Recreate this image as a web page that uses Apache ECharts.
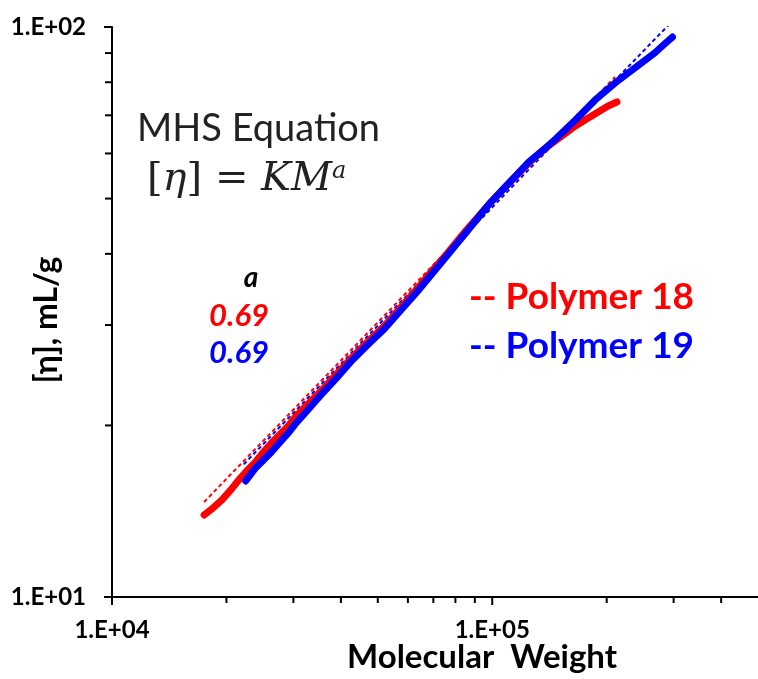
<!DOCTYPE html>
<html>
<head>
<meta charset="utf-8">
<script src="https://cdn.jsdelivr.net/npm/echarts@6/dist/echarts.min.js"></script>
<style>
  html, body { margin: 0; padding: 0; background: #fff; }
  #chart { width: 758px; height: 679px; }
</style>
</head>
<body>
<div id="chart"></div>
<script>
// Intrinsic viscosity vs molecular weight (log-log), two polymers
const polymer18 = [
  [17470, 13.93], [18440, 14.33], [19460, 14.80], [20540, 15.41], [21540, 16.04],
  [22600, 16.64], [23850, 17.25], [25030, 17.96], [26260, 18.63], [27550, 19.24],
  [29080, 19.95], [30510, 20.78], [32200, 21.54], [33780, 22.25], [35440, 22.98],
  [38770, 24.52], [42420, 26.16], [46970, 28.02], [52010, 29.89], [57250, 32.14],
  [63400, 34.70], [69370, 37.32], [75910, 39.97], [85560, 44.05], [98220, 48.93],
  [110740, 53.25], [124860, 57.74], [138250, 61.35], [151240, 64.13], [165480, 67.04],
  [178890, 69.25], [189940, 70.95], [201660, 72.69], [212850, 73.88]
];
const polymer19 = [
  [22470, 15.98], [23850, 16.84], [25030, 17.39], [26260, 17.96], [27550, 18.63],
  [29080, 19.40], [30510, 20.20], [32200, 21.03], [33780, 21.81], [35440, 22.61],
  [38770, 24.13], [42420, 25.85], [46970, 27.68], [52010, 29.53], [57250, 31.75],
  [63400, 34.28], [69370, 36.87], [75910, 39.65], [85560, 43.70], [98220, 48.93],
  [110740, 53.25], [124860, 57.98], [138250, 61.35], [146780, 63.61], [165480, 68.69],
  [186550, 74.48], [210310, 79.74], [237140, 84.73], [267370, 90.03], [283860, 93.37],
  [297810, 96.04]
];
// MHS power-law fits, [eta] = K * M^a (end points)
const fit18 = [[17470, 14.68], [210310, 81.7]];
const fit19 = [[22200, 17.09], [292500, 101.2]];
const exponentA = ['0.69', '0.69'];

const xMin = 1e4, xMax = 5e5, yMin = 10, yMax = 100;
const xMajorTicks = [1e4, 1e5];
const xMinorTicks = [2e4, 3e4, 4e4, 5e4, 6e4, 7e4, 8e4, 9e4, 2e5, 3e5, 4e5];
const yMajorTicks = [10, 100];
const yMinorTicks = [20, 30, 40, 50, 60, 70, 80, 90];

const RED = '#ff0000', BLUE = '#0000ff';
const FONT = 'Lato, "Open Sans", sans-serif';

function sciLabel(v) {
  const e = Math.log10(v);
  if (Math.abs(e - Math.round(e)) > 1e-6) return '';
  const n = Math.round(e);
  return '1.E' + (n < 0 ? '-' : '+') + String(Math.abs(n)).padStart(2, '0');
}

const tickData = []
  .concat(xMajorTicks.map(v => [v, yMin, 0, 8]))
  .concat(xMinorTicks.map(v => [v, yMin, 0, 6]))
  .concat(yMajorTicks.map(v => [xMin, v, 1, 8]))
  .concat(yMinorTicks.map(v => [xMin, v, 1, 7]));

const chart = echarts.init(document.getElementById('chart'), null, { renderer: 'canvas' });
chart.setOption({
  animation: false,
  backgroundColor: '#fff',
  grid: { left: 112, top: 27, right: -6, bottom: 82 },
  xAxis: {
    type: 'log', logBase: 10, min: xMin, max: xMax,
    axisLine: { lineStyle: { color: '#000', width: 2 } },
    axisTick: { show: false },
    splitLine: { show: false },
    axisLabel: {
      formatter: sciLabel, margin: 21, showMaxLabel: false,
      color: '#000', fontFamily: FONT, fontWeight: 'bold', fontSize: 24
    }
  },
  yAxis: {
    type: 'log', logBase: 10, min: yMin, max: yMax,
    axisLine: { lineStyle: { color: '#000', width: 2 } },
    axisTick: { show: false },
    splitLine: { show: false },
    axisLabel: {
      formatter: sciLabel, margin: 26,
      color: '#000', fontFamily: FONT, fontWeight: 'bold', fontSize: 24
    }
  },
  series: [
    {
      name: 'fit18', type: 'line', data: fit18, symbol: 'none', z: 1,
      lineStyle: { color: RED, width: 2, type: [4, 3] }
    },
    {
      name: 'fit19', type: 'line', data: fit19, symbol: 'none', z: 1,
      lineStyle: { color: BLUE, width: 2, type: [4, 3] }
    },
    {
      name: 'Polymer 18', type: 'line', data: polymer18, symbol: 'none', z: 3,
      lineStyle: { color: RED, width: 7, cap: 'round', join: 'round' }
    },
    {
      name: 'Polymer 19', type: 'line', data: polymer19, symbol: 'none', z: 4,
      lineStyle: { color: BLUE, width: 7, cap: 'round', join: 'round' }
    },
    {
      name: 'ticks', type: 'custom', data: tickData, silent: true, z: 5,
      clip: false,
      encode: { x: 0, y: 1 },
      renderItem: function (params, api) {
        const p = api.coord([api.value(0), api.value(1)]);
        const isY = api.value(2) === 1;
        const len = api.value(3);
        return {
          type: 'line',
          shape: isY
            ? { x1: p[0] - len, y1: p[1], x2: p[0], y2: p[1] }
            : { x1: p[0], y1: p[1], x2: p[0], y2: p[1] + len },
          style: { stroke: '#000', lineWidth: 2 }
        };
      }
    }
  ],
  graphic: [
    {
      type: 'text', left: 347, top: 641,
      style: { text: 'Molecular  Weight', fill: '#000', font: 'bold 33px ' + FONT }
    },
    {
      type: 'text', x: 47, y: 320, rotation: Math.PI / 2,
      style: {
        text: '[η], mL/g', fill: '#000', font: 'bold 32px ' + FONT,
        align: 'center', verticalAlign: 'middle'
      }
    },
    {
      type: 'text', left: 137, top: 110,
      style: { text: 'MHS Equation', fill: '#222', font: '38px ' + FONT }
    },
    {
      type: 'text', left: 147, top: 160,
      style: {
        text: '{b|[}{i|η}{b|] = }{i|KM}{s|a}',
        rich: {
          b: { font: '40px "DejaVu Serif", serif', fill: '#222', verticalAlign: 'bottom' },
          i: { font: 'italic 40px "DejaVu Serif", serif', fill: '#222', verticalAlign: 'bottom' },
          s: { font: 'italic 24px "DejaVu Serif", serif', fill: '#222', verticalAlign: 'top' }
        }
      }
    },
    {
      type: 'text', x: 251, y: 278,
      style: { text: 'a', fill: '#000', font: 'italic bold 28px ' + FONT, align: 'center', verticalAlign: 'middle' }
    },
    {
      type: 'text', x: 239, y: 316,
      style: { text: exponentA[0], fill: RED, font: 'italic bold 31px ' + FONT, align: 'center', verticalAlign: 'middle' }
    },
    {
      type: 'text', x: 239, y: 353,
      style: { text: exponentA[1], fill: BLUE, font: 'italic bold 31px ' + FONT, align: 'center', verticalAlign: 'middle' }
    },
    {
      type: 'text', left: 469, top: 279,
      style: { text: '-- Polymer 18', fill: RED, font: 'bold 37px ' + FONT }
    },
    {
      type: 'text', left: 469, top: 328,
      style: { text: '-- Polymer 19', fill: BLUE, font: 'bold 37px ' + FONT }
    }
  ]
});
</script>
</body>
</html>
